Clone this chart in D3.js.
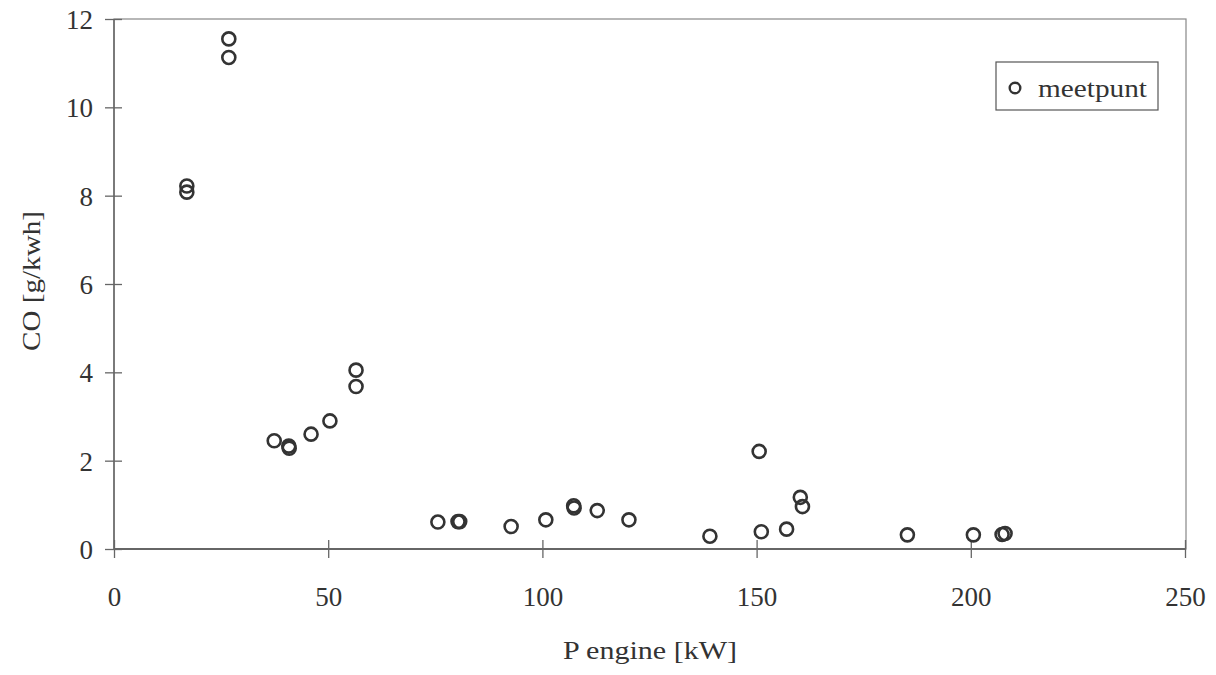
<!DOCTYPE html>
<html><head><meta charset="utf-8">
<script src="https://cdn.jsdelivr.net/npm/d3@7"></script>
<style>
body{margin:0;background:#fff;}
svg{display:block;}
text{font-family:"Liberation Serif","Times New Roman",serif;fill:#333;}
</style></head>
<body><svg id="c" width="1216" height="675"></svg>
<script>
const pEngine = [26.8, 26.8, 17.0, 17.0, 37.4, 40.8, 40.9, 46.0, 50.4, 56.5, 56.5,
  75.6, 80.3, 80.7, 92.7, 100.8, 107.3, 107.4, 112.8, 120.2,
  139.1, 150.6, 151.1, 157.0, 160.2, 160.7, 185.2, 200.6, 207.3, 208.0];
const coValues = [11.55, 11.13, 8.22, 8.08, 2.45, 2.33, 2.28, 2.60, 2.90, 4.05, 3.68,
  0.61, 0.62, 0.62, 0.51, 0.66, 0.98, 0.93, 0.87, 0.66,
  0.29, 2.21, 0.39, 0.45, 1.17, 0.96, 0.32, 0.32, 0.33, 0.35];
const xTicks = [0, 50, 100, 150, 200, 250];
const yTicks = [0, 2, 4, 6, 8, 10, 12];
const xTitle = "P engine [kW]";
const yTitle = "CO [g/kwh]";
const legendLabel = "meetpunt";

const svg = d3.select("#c");
const L = 114, R = 1186, T = 19, B = 549;
const x = d3.scaleLinear().domain([0, 250]).range([L, R - 1]);
const y = d3.scaleLinear().domain([0, 12]).range([B, T]);
const axisColor = "#666";
const FS = 26;

// frame
svg.append("rect").attr("x", L).attr("y", T).attr("width", R - L).attr("height", B - T)
  .attr("fill", "none").attr("stroke", "#888").attr("stroke-width", 1.2);

// x axis
const gx = svg.append("g").attr("transform", `translate(0,${B})`)
  .call(d3.axisBottom(x).tickValues(xTicks).tickSize(0).tickPadding(0).tickFormat(d3.format("d")));
gx.select(".domain").remove();
gx.selectAll(".tick line").remove();
gx.selectAll(".tick").append("line").attr("y1", -9).attr("y2", 9).attr("stroke", axisColor).attr("stroke-width", 1.3);
gx.selectAll(".tick text").attr("font-size", 27).attr("y", 57).attr("dy", 0)
  .style("font-family", '"Liberation Serif", serif').attr("fill", "#333");

// y axis
const gy = svg.append("g").attr("transform", `translate(${L},0)`)
  .call(d3.axisLeft(y).tickValues(yTicks).tickSize(0).tickPadding(0).tickFormat(d3.format("d")));
gy.select(".domain").remove();
gy.selectAll(".tick line").remove();
gy.selectAll(".tick").append("line").attr("x1", -9).attr("x2", 8).attr("stroke", axisColor).attr("stroke-width", 1.3);
gy.selectAll(".tick text").attr("font-size", 27).attr("x", -21).attr("dy", "0.35em")
  .style("font-family", '"Liberation Serif", serif').attr("fill", "#333");

// axis lines
svg.append("line").attr("x1", L).attr("x2", R).attr("y1", B).attr("y2", B).attr("stroke", axisColor).attr("stroke-width", 2);
svg.append("line").attr("x1", L).attr("x2", L).attr("y1", T).attr("y2", B).attr("stroke", axisColor).attr("stroke-width", 1.5);

// titles
svg.append("text").attr("x", 650).attr("y", 659).attr("text-anchor", "middle").attr("font-size", FS)
  .attr("textLength", 174).attr("lengthAdjust", "spacingAndGlyphs").text(xTitle);
svg.append("text").attr("transform", `translate(40,${281}) rotate(-90)`).attr("text-anchor", "middle")
  .attr("font-size", FS).attr("textLength", 140).attr("lengthAdjust", "spacingAndGlyphs").text(yTitle);

// points
svg.append("g").selectAll("circle").data(pEngine.map((p, i) => [p, coValues[i]])).join("circle")
  .attr("cx", d => x(d[0])).attr("cy", d => y(d[1])).attr("r", 6.5)
  .attr("fill", "none").attr("stroke", "#333").attr("stroke-width", 2.6);

// legend
svg.append("rect").attr("x", 996).attr("y", 62).attr("width", 162).attr("height", 48)
  .attr("fill", "#fff").attr("stroke", "#555").attr("stroke-width", 1.2);
svg.append("circle").attr("cx", 1015).attr("cy", 88).attr("r", 5.3).attr("fill", "none")
  .attr("stroke", "#333").attr("stroke-width", 2.4);
svg.append("text").attr("x", 1038).attr("y", 97).attr("font-size", FS)
  .attr("textLength", 109).attr("lengthAdjust", "spacingAndGlyphs").text(legendLabel);
</script></body></html>
